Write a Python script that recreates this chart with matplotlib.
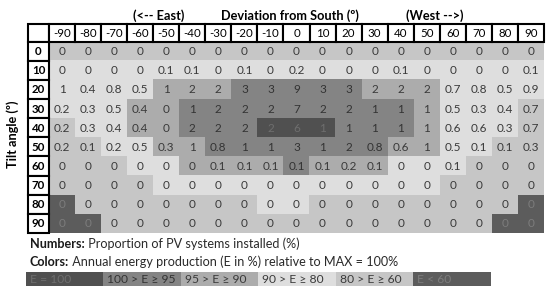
import matplotlib.pyplot as plt
import numpy as np
from matplotlib.colors import ListedColormap
from matplotlib.patches import Rectangle

W, H = 548, 287
FONT = "Lato"

AZIMUTHS = [-90, -80, -70, -60, -50, -40, -30, -20, -10, 0, 10, 20, 30, 40, 50, 60, 70, 80, 90]
TILTS = [0, 10, 20, 30, 40, 50, 60, 70, 80, 90]

# share of installed PV systems (%) per tilt row / azimuth column
SHARES = [
    [0, 0, 0, 0, 0, 0, 0, 0, 0, 0, 0, 0, 0, 0, 0, 0, 0, 0, 0],
    [0, 0, 0, 0, 0.1, 0.1, 0, 0.1, 0, 0.2, 0, 0, 0, 0.1, 0, 0, 0, 0, 0.1],
    [1, 0.4, 0.8, 0.5, 1, 2, 2, 3, 3, 9, 3, 3, 2, 2, 2, 0.7, 0.8, 0.5, 0.9],
    [0.2, 0.3, 0.5, 0.4, 0, 1, 2, 2, 2, 7, 2, 2, 1, 1, 1, 0.5, 0.3, 0.4, 0.7],
    [0.2, 0.3, 0.4, 0.4, 0, 2, 2, 2, 2, 6, 1, 1, 1, 1, 1, 0.6, 0.6, 0.3, 0.7],
    [0.2, 0.1, 0.2, 0.5, 0.3, 1, 0.8, 1, 1, 3, 1, 2, 0.8, 0.6, 1, 0.5, 0.1, 0.1, 0.3],
    [0, 0, 0, 0, 0, 0, 0.1, 0.1, 0.1, 0.1, 0.1, 0.2, 0.1, 0, 0, 0.1, 0, 0, 0],
    [0, 0, 0, 0, 0, 0, 0, 0, 0, 0, 0, 0, 0, 0, 0, 0, 0, 0, 0],
    [0, 0, 0, 0, 0, 0, 0, 0, 0, 0, 0, 0, 0, 0, 0, 0, 0, 0, 0],
    [0, 0, 0, 0, 0, 0, 0, 0, 0, 0, 0, 0, 0, 0, 0, 0, 0, 0, 0],
]

# energy class: 0 E=100, 1 95-100, 2 90-95, 3 80-90, 4 60-80, 5 <60
ENERGY_CLASS = [
    [4, 4, 4, 4, 4, 4, 4, 4, 4, 4, 4, 4, 4, 4, 4, 4, 4, 4, 4],
    [3, 3, 3, 3, 3, 3, 3, 3, 3, 3, 3, 3, 3, 3, 3, 3, 3, 3, 3],
    [3, 3, 3, 3, 2, 2, 2, 1, 1, 1, 1, 1, 2, 2, 2, 3, 3, 3, 3],
    [3, 3, 3, 2, 2, 1, 1, 1, 1, 1, 1, 1, 1, 1, 2, 3, 3, 3, 4],
    [4, 3, 3, 2, 2, 1, 1, 1, 0, 0, 0, 1, 1, 1, 2, 3, 3, 3, 4],
    [4, 4, 3, 3, 2, 2, 1, 1, 1, 1, 1, 1, 1, 2, 2, 3, 3, 4, 4],
    [4, 4, 4, 3, 3, 2, 2, 2, 2, 1, 2, 2, 2, 3, 3, 3, 4, 4, 4],
    [4, 4, 4, 4, 3, 3, 3, 3, 3, 3, 3, 3, 3, 3, 3, 4, 4, 4, 4],
    [5, 4, 4, 4, 4, 4, 4, 4, 3, 3, 4, 4, 4, 4, 4, 4, 4, 4, 5],
    [5, 5, 4, 4, 4, 4, 4, 4, 4, 4, 4, 4, 4, 4, 4, 4, 4, 5, 5],
]

CLASS_LABELS = ["E = 100", "100 > E \u2265 95", "95 > E \u2265 90",
                "90 > E \u2265 80", "80 > E \u2265 60", "E < 60"]
CLASS_COLORS = ["#505050", "#848484", "#acacac", "#dedede", "#c6c6c6", "#5c5c5c"]
CLASS_TEXT = ["#6e6e6e", "#333333", "#3a3a3a", "#3a3a3a", "#3a3a3a", "#7c7c7c"]


def fig_box(left, top, right, bottom):
    return [left / W, 1 - bottom / H, (right - left) / W, (bottom - top) / H]


def main():
    plt.rcParams['font.family'] = [FONT, 'DejaVu Sans']
    fig = plt.figure(figsize=(W / 100, H / 100), dpi=100)
    cmap = ListedColormap(CLASS_COLORS)

    # table body
    body_l, body_t, body_r, body_b = 49, 41.5, 544, 233
    ax = fig.add_axes(fig_box(body_l, body_t, body_r, body_b))
    ax.imshow(np.array(ENERGY_CLASS), cmap=cmap, vmin=-0.5, vmax=5.5,
              aspect='auto', interpolation='nearest')
    ax.axis('off')
    for i, row in enumerate(SHARES):
        for j, v in enumerate(row):
            ax.text(j, i + 0.03, f"{v:g}", ha='center', va='center', fontsize=8.5,
                    color=CLASS_TEXT[ENERGY_CLASS[i][j]])

    col_w = (body_r - body_l) / len(AZIMUTHS)
    row_h = (body_b - body_t) / len(TILTS)
    head_h = (body_t - 24) / row_h
    lab_w = (body_l - 28) / col_w
    box = dict(facecolor='white', edgecolor='black', lw=1.5, clip_on=False, zorder=3)

    # header row
    ax.add_patch(Rectangle((-0.5 - lab_w, -0.5 - head_h), lab_w, head_h, **box))
    for j, az in enumerate(AZIMUTHS):
        ax.add_patch(Rectangle((j - 0.5, -0.5 - head_h), 1, head_h, **box))
        ax.text(j, -0.5 - head_h / 2 + 0.03, str(az), ha='center', va='center',
                fontsize=8.3, color='black', zorder=4)

    # tilt labels column
    for i, t in enumerate(TILTS):
        ax.add_patch(Rectangle((-0.5 - lab_w, i - 0.5), lab_w, 1, **box))
        ax.text(-0.5 - lab_w / 2, i + 0.03, str(t), ha='center', va='center',
                fontsize=8.3, fontweight='bold', color='black', zorder=4)

    fig.text(159 / W, 1 - 15.5 / H, "(<-- East)", ha='center', va='center',
             fontsize=9.2, fontweight='bold')
    fig.text(290 / W, 1 - 15.5 / H, "Deviation from South (\u00ba)", ha='center',
             va='center', fontsize=9.2, fontweight='bold')
    fig.text(435 / W, 1 - 15.5 / H, "(West -->)", ha='center', va='center',
             fontsize=9.2, fontweight='bold')
    fig.text(13 / W, 1 - 134 / H, "Tilt angle (\u00ba)", ha='center', va='center',
             rotation=90, fontsize=9.2, fontweight='bold')

    # notes below the table
    renderer = fig.canvas.get_renderer()
    for y, head, rest in [(244, "Numbers:", " Proportion of PV systems installed (%)"),
                          (262, "Colors:", " Annual energy production (E in %) relative to MAX = 100%")]:
        t = fig.text(30 / W, 1 - y / H, head, ha='left', va='center',
                     fontsize=9.1, fontweight='bold', color='#1a1a1a')
        x1 = t.get_window_extent(renderer).x1 / W
        fig.text(x1, 1 - y / H, rest, ha='left', va='center', fontsize=9.1, color='#2a2a2a')

    # colour legend bar
    lax = fig.add_axes(fig_box(26, 272, 491, 286))
    lax.imshow([list(range(len(CLASS_LABELS)))], cmap=cmap, vmin=-0.5, vmax=5.5,
               aspect='auto', interpolation='nearest')
    lax.axis('off')
    for k, lab in enumerate(CLASS_LABELS):
        lax.text(k - 0.45, 0.05, lab, ha='left', va='center', fontsize=8.7,
                 color=CLASS_TEXT[k])

    fig.savefig("out.png", dpi=100)


if __name__ == '__main__':
    main()
